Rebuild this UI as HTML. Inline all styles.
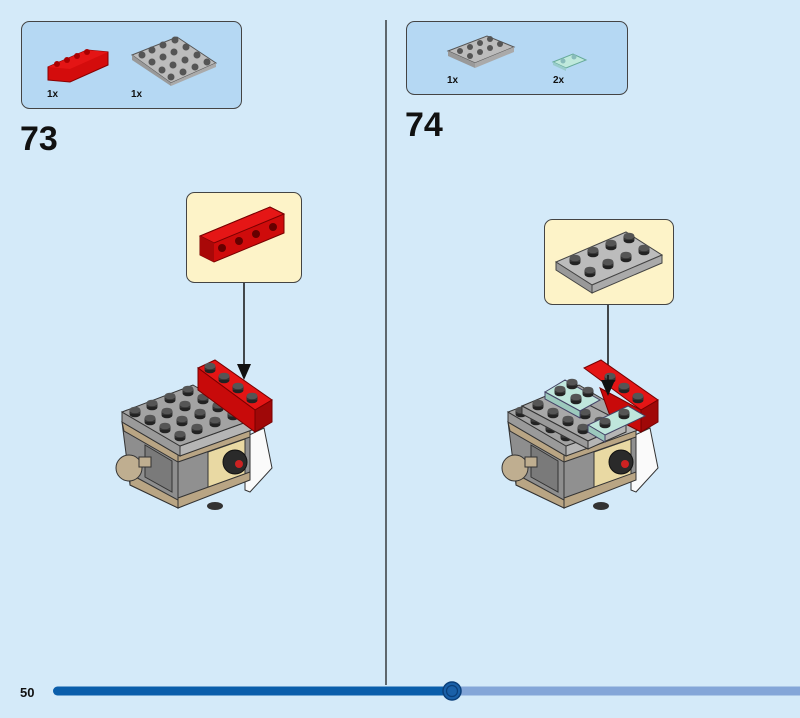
<!DOCTYPE html>
<html><head><meta charset="utf-8"><style>
html,body{margin:0;padding:0;background:#d4eaf9;}
svg{display:block;font-family:"Liberation Sans",sans-serif;}
</style></head><body>
<svg width="800" height="718" viewBox="0 0 800 718" xmlns="http://www.w3.org/2000/svg">
<defs>
<g id="stud"><ellipse cx="0" cy="2" rx="5.5" ry="3.3" fill="#222"/><rect x="-5.5" y="-2" width="11" height="4" fill="#333"/><ellipse cx="0" cy="-2" rx="5.5" ry="3.3" fill="#555"/></g>
<g id="model">
 <polygon points="245,437 264,428 272,468 250,492 245,490" fill="#fafafa" stroke="#333"/>
 <polygon points="122,422 178,455 178,508 130,485" fill="#8e8e8e" stroke="#333"/>
 <polygon points="130,474 178,500 178,508 130,485" fill="#b9a584" stroke="#333"/>
 <polygon points="122,422 178,455 178,462 124,431" fill="#b9a584" stroke="#333"/>
 <polygon points="145,445 172,461 172,492 145,477" fill="#7a7a7a" stroke="#333"/>
 <polygon points="178,455 250,430 250,478 178,508" fill="#909090" stroke="#333"/>
 <polygon points="178,455 250,430 250,437 178,462" fill="#b9a584" stroke="#333"/>
 <polygon points="208,452 245,439 245,476 208,490" fill="#e9d9a3" stroke="#333"/>
 <polygon points="178,498 250,472 250,480 178,508" fill="#b9a584" stroke="#333"/>
 <circle cx="235" cy="462" r="12" fill="#2a2a2a" stroke="#111"/>
 <circle cx="239" cy="464" r="4" fill="#c22"/>
 <circle cx="129" cy="468" r="13" fill="#bfae90" stroke="#333"/>
 <rect x="139" y="457" width="12" height="10" fill="#bfae90" stroke="#333"/>
 <ellipse cx="215" cy="506" rx="8" ry="4" fill="#333"/>
 <polygon points="122,412 180,446 180,456 122,422" fill="#9a9a9a" stroke="#333"/>
 <polygon points="180,446 252,420 252,430 180,456" fill="#b5b5b5" stroke="#333"/>
 <polygon points="122,412 193,385 252,420 180,446" fill="#a3a3a3" stroke="#333"/>
</g>
</defs>

<line x1="386" y1="20" x2="386" y2="685" stroke="#111" stroke-width="1.2"/>

<rect x="21.5" y="21.5" width="220" height="87" rx="8" fill="#b5d8f3" stroke="#444" stroke-width="1"/>
<polygon points="48,67 87,50 108,52 108,65 70,82 48,80" fill="#d40c0c" stroke="#800"/>
<polygon points="48,67 70,69 108,52 87,50" fill="#e41515"/>
<g fill="#a00"><circle cx="57" cy="64" r="3"/><circle cx="67" cy="60" r="3"/><circle cx="77" cy="56" r="3"/><circle cx="87" cy="52" r="3"/></g>
<polygon points="132,55 177,37 216,63 171,83" fill="#bcbcbc" stroke="#555"/>
<polygon points="132,55 171,83 171,86 132,60" fill="#999"/>
<polygon points="171,83 216,63 216,67 171,86" fill="#aaa"/>
<g fill="#555"><circle cx="142" cy="55" r="3.5"/><circle cx="152" cy="50" r="3.5"/><circle cx="163" cy="45" r="3.5"/><circle cx="175" cy="40" r="3.5"/>
<circle cx="152" cy="62" r="3.5"/><circle cx="163" cy="57" r="3.5"/><circle cx="174" cy="52" r="3.5"/><circle cx="186" cy="47" r="3.5"/>
<circle cx="162" cy="70" r="3.5"/><circle cx="173" cy="65" r="3.5"/><circle cx="185" cy="60" r="3.5"/><circle cx="197" cy="55" r="3.5"/>
<circle cx="171" cy="77" r="3.5"/><circle cx="183" cy="72" r="3.5"/><circle cx="195" cy="67" r="3.5"/><circle cx="207" cy="62" r="3.5"/></g>
<text x="47" y="97" font-size="10" font-weight="bold" fill="#111">1x</text>
<text x="131" y="97" font-size="10" font-weight="bold" fill="#111">1x</text>
<text x="20" y="150" font-size="34" font-weight="bold" fill="#111">73</text>

<rect x="406.5" y="21.5" width="221" height="73" rx="8" fill="#b5d8f3" stroke="#444" stroke-width="1"/>
<polygon points="448,51 487,36 514,47 475,63" fill="#bcbcbc" stroke="#555"/>
<polygon points="448,51 475,63 475,68 448,56" fill="#999"/>
<polygon points="475,63 514,47 514,52 475,68" fill="#aaa"/>
<g fill="#555"><circle cx="460" cy="51" r="3"/><circle cx="470" cy="47" r="3"/><circle cx="480" cy="43" r="3"/><circle cx="490" cy="39" r="3"/>
<circle cx="470" cy="56" r="3"/><circle cx="480" cy="52" r="3"/><circle cx="490" cy="48" r="3"/><circle cx="500" cy="44" r="3"/></g>
<polygon points="553,62 573,54 586,60 566,68" fill="#bfe9dc" stroke="#6a9"/>
<polygon points="553,62 566,68 566,71 553,65" fill="#9cc"/>
<circle cx="563" cy="61" r="2.5" fill="#8bb"/><circle cx="574" cy="57" r="2.5" fill="#8bb"/>
<text x="447" y="83" font-size="10" font-weight="bold" fill="#111">1x</text>
<text x="553" y="83" font-size="10" font-weight="bold" fill="#111">2x</text>
<text x="405" y="136" font-size="34" font-weight="bold" fill="#111">74</text>

<rect x="186.5" y="192.5" width="115" height="90" rx="8" fill="#fdf3c8" stroke="#444"/>
<polygon points="200,236 270,207 284,214 284,233 214,262 200,255" fill="#cf0b0b" stroke="#700"/>
<polygon points="200,236 214,243 284,214 270,207" fill="#e51616" stroke="#700"/>
<polygon points="214,243 214,262 200,255 200,236" fill="#a90808"/>
<g fill="#600"><circle cx="222" cy="248" r="4"/><circle cx="239" cy="241" r="4"/><circle cx="256" cy="234" r="4"/><circle cx="273" cy="227" r="4"/></g>
<line x1="244" y1="283" x2="244" y2="366" stroke="#111" stroke-width="1.5"/>
<polygon points="237,364 251,364 244,380" fill="#111"/>

<use href="#model"/>
<g>
<use href="#stud" x="135" y="412"/><use href="#stud" x="152" y="405"/><use href="#stud" x="170" y="398"/><use href="#stud" x="188" y="391"/>
<use href="#stud" x="150" y="420"/><use href="#stud" x="167" y="413"/><use href="#stud" x="185" y="406"/><use href="#stud" x="203" y="399"/>
<use href="#stud" x="165" y="428"/><use href="#stud" x="182" y="421"/><use href="#stud" x="200" y="414"/><use href="#stud" x="218" y="407"/>
<use href="#stud" x="180" y="436"/><use href="#stud" x="197" y="429"/><use href="#stud" x="215" y="422"/><use href="#stud" x="233" y="415"/>
</g>
<polygon points="198,368 215,360 272,400 255,410" fill="#e41515" stroke="#700"/>
<polygon points="198,368 255,410 255,432 198,390" fill="#c80a0a" stroke="#700"/>
<polygon points="255,410 272,400 272,422 255,432" fill="#a00808" stroke="#700"/>
<g><use href="#stud" x="210" y="368"/><use href="#stud" x="224" y="378"/><use href="#stud" x="238" y="388"/><use href="#stud" x="252" y="398"/></g>

<rect x="544.5" y="219.5" width="129" height="85" rx="8" fill="#fdf3c8" stroke="#444"/>
<polygon points="556,262 626,232 662,255 592,285" fill="#bcbcbc" stroke="#444"/>
<polygon points="556,262 592,285 592,293 556,270" fill="#999" stroke="#444"/>
<polygon points="592,285 662,255 662,263 592,293" fill="#aaa" stroke="#444"/>
<g><use href="#stud" x="575" y="260"/><use href="#stud" x="593" y="252"/><use href="#stud" x="611" y="245"/><use href="#stud" x="629" y="238"/>
<use href="#stud" x="590" y="272"/><use href="#stud" x="608" y="264"/><use href="#stud" x="626" y="257"/><use href="#stud" x="644" y="250"/></g>
<line x1="608" y1="305" x2="608" y2="380" stroke="#111" stroke-width="1.5"/>

<g transform="translate(386,0)"><use href="#model"/></g>
<g transform="translate(386,0)">
<use href="#stud" x="135" y="412"/><use href="#stud" x="152" y="405"/><use href="#stud" x="150" y="420"/>
<use href="#stud" x="165" y="428"/><use href="#stud" x="180" y="436"/><use href="#stud" x="197" y="429"/>
</g>
<!-- red brick -->
<polygon points="584,368 601,360 658,400 641,410" fill="#e41515" stroke="#700"/>
<polygon points="641,410 658,400 658,422 641,432" fill="#a00808" stroke="#700"/>
<polygon points="600,388 641,410 641,432 610,416" fill="#c80a0a" stroke="#700"/>
<g><use href="#stud" x="610" y="378"/><use href="#stud" x="624" y="388"/><use href="#stud" x="638" y="398"/></g>
<!-- upper grey 2x4 plate -->
<polygon points="522,406 560,390 626,424 588,441" fill="#a8a8a8" stroke="#333"/>
<polygon points="522,406 588,441 588,449 522,414" fill="#9a9a9a" stroke="#333"/>
<polygon points="588,441 626,424 626,432 588,449" fill="#b5b5b5" stroke="#333"/>
<g><use href="#stud" x="538" y="405"/><use href="#stud" x="555" y="398"/><use href="#stud" x="553" y="413"/><use href="#stud" x="570" y="406"/>
<use href="#stud" x="568" y="421"/><use href="#stud" x="585" y="414"/><use href="#stud" x="583" y="429"/><use href="#stud" x="600" y="422"/></g>
<!-- teal plates -->
<polygon points="545,392 565,380 600,400 580,411" fill="#bfe6dc" stroke="#446"/>
<polygon points="545,392 580,411 580,418 545,399" fill="#9cc9bd" stroke="#446"/>
<g><use href="#stud" x="560" y="391"/><use href="#stud" x="576" y="399"/><use href="#stud" x="572" y="384"/><use href="#stud" x="588" y="392"/></g>
<polygon points="588,425 628,406 645,416 605,435" fill="#bfe6dc" stroke="#446"/>
<polygon points="588,425 605,435 605,442 588,432" fill="#9cc9bd" stroke="#446"/>
<g><use href="#stud" x="605" y="423"/><use href="#stud" x="624" y="414"/></g>
<line x1="608" y1="375" x2="608" y2="385" stroke="#111" stroke-width="1.5"/>
<polygon points="601,380 615,380 608,396" fill="#111"/>

<text x="20" y="697" font-size="13" font-weight="bold" fill="#111">50</text>
<rect x="452" y="686.5" width="348" height="9" fill="#84a6d8"/>
<rect x="53" y="686.5" width="400" height="9" rx="4.5" fill="#0a5eab"/>
<circle cx="452" cy="691" r="9" fill="#1a60a8" stroke="#0a3f7a" stroke-width="1.5"/>
<circle cx="452" cy="691" r="5.5" fill="none" stroke="#0a3f7a" stroke-width="1.2"/>
</svg>
</body></html>
